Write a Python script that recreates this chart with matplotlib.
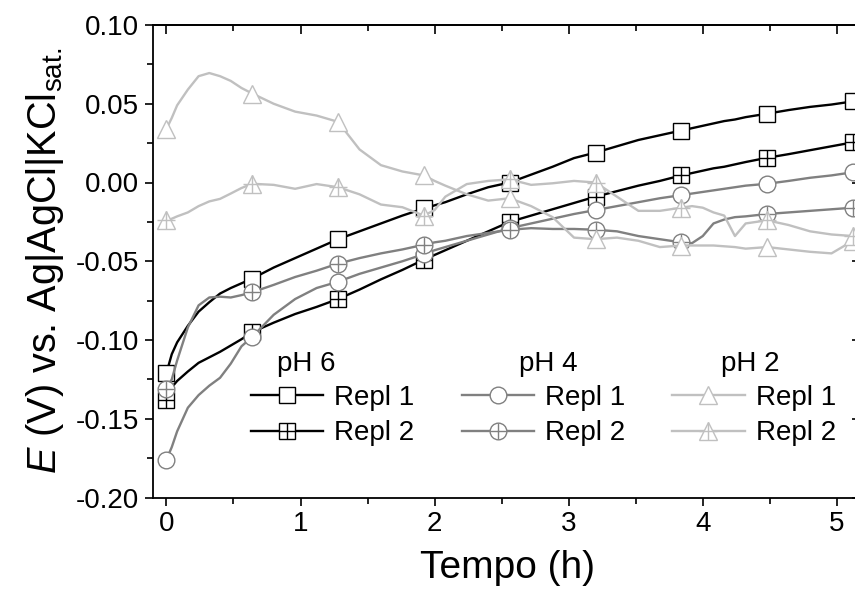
import numpy as np
import matplotlib
matplotlib.use('Agg')
import matplotlib.pyplot as plt
from matplotlib.lines import Line2D
from matplotlib.legend_handler import HandlerTuple
from matplotlib.ticker import MultipleLocator, FormatStrFormatter

plt.rcParams['font.family'] = ['Liberation Sans', 'DejaVu Sans']
plt.rcParams['axes.unicode_minus'] = False
plt.rcParams['mathtext.fontset'] = 'custom'
plt.rcParams['mathtext.rm'] = 'Liberation Sans'
plt.rcParams['mathtext.it'] = 'Liberation Sans:italic'
plt.rcParams['mathtext.bf'] = 'Liberation Sans:bold'

# ---------------- data ----------------
time_h = np.array([0.00, 0.04, 0.08, 0.16, 0.24, 0.32, 0.40, 0.48, 0.56, 0.64,
                   0.80, 0.96, 1.12, 1.28, 1.44, 1.60, 1.76, 1.92, 2.00, 2.08,
                   2.24, 2.40, 2.56, 2.72, 2.88, 3.04, 3.20, 3.36, 3.52, 3.68,
                   3.84, 3.92, 4.00, 4.08, 4.16, 4.24, 4.32, 4.48, 4.64, 4.80,
                   4.96, 5.12])

marker_times = [0.00, 0.64, 1.28, 1.92, 2.56, 3.20, 3.84, 4.48, 5.12]

ph6_repl1 = [-0.121, -0.109, -0.1015, -0.091, -0.082, -0.076, -0.0705, -0.067, -0.064, -0.061,
             -0.054, -0.048, -0.042, -0.036, -0.031, -0.026, -0.021, -0.0165, -0.0145, -0.0125,
             -0.0075, -0.003, 0.000, 0.005, 0.010, 0.0155, 0.019, 0.023, 0.027, 0.030,
             0.033, 0.0345, 0.036, 0.0375, 0.039, 0.040, 0.0415, 0.0437, 0.046, 0.048,
             0.0495, 0.0515]

ph6_repl2 = [-0.138, -0.130, -0.126, -0.120, -0.1145, -0.111, -0.1075, -0.1035, -0.0995, -0.095,
             -0.089, -0.0835, -0.079, -0.074, -0.068, -0.0615, -0.0555, -0.049, -0.046, -0.043,
             -0.037, -0.031, -0.025, -0.021, -0.017, -0.013, -0.009, -0.0055, -0.002, 0.001,
             0.0045, 0.006, 0.0075, 0.009, 0.010, 0.0115, 0.013, 0.0157, 0.018, 0.0205,
             0.023, 0.0255]

ph4_repl1 = [-0.176, -0.168, -0.158, -0.143, -0.135, -0.129, -0.124, -0.115, -0.104, -0.098,
             -0.084, -0.074, -0.067, -0.063, -0.058, -0.054, -0.050, -0.0455, -0.043, -0.041,
             -0.037, -0.033, -0.029, -0.026, -0.023, -0.020, -0.0175, -0.015, -0.0125, -0.010,
             -0.008, -0.007, -0.006, -0.005, -0.004, -0.003, -0.002, -0.0008, 0.001, 0.003,
             0.0045, 0.0065]

ph4_repl2 = [-0.131, -0.125, -0.113, -0.092, -0.078, -0.073, -0.0725, -0.073, -0.0715, -0.0697,
             -0.065, -0.060, -0.056, -0.0515, -0.048, -0.045, -0.0425, -0.0395, -0.038, -0.037,
             -0.034, -0.032, -0.030, -0.029, -0.0295, -0.0295, -0.030, -0.031, -0.034, -0.036,
             -0.038, -0.0385, -0.034, -0.026, -0.0235, -0.022, -0.0215, -0.020, -0.019, -0.018,
             -0.017, -0.016]

ph2_repl1 = [0.034, 0.041, 0.049, 0.059, 0.0675, 0.0695, 0.0675, 0.0645, 0.060, 0.0565,
             0.050, 0.045, 0.0425, 0.0385, 0.021, 0.011, 0.007, 0.0045, 0.001, -0.002,
             -0.0075, -0.0115, -0.010, -0.015, -0.022, -0.035, -0.036, -0.035, -0.037, -0.041,
             -0.040, -0.040, -0.040, -0.040, -0.0405, -0.041, -0.042, -0.041, -0.0425, -0.044,
             -0.045, -0.037]

ph2_repl2 = [-0.024, -0.023, -0.0215, -0.019, -0.015, -0.012, -0.0104, -0.007, -0.0035, -0.0008,
             -0.0015, -0.004, -0.001, -0.003, -0.0075, -0.014, -0.0157, -0.021, -0.0175, -0.009,
             -0.001, 0.001, 0.002, -0.0015, -0.0005, 0.001, 0.000, -0.009, -0.018, -0.018,
             -0.016, -0.015, -0.016, -0.019, -0.021, -0.034, -0.026, -0.024, -0.027, -0.031,
             -0.033, -0.034]

group_titles = ['pH 6', 'pH 4', 'pH 2']
repl_labels = ['Repl 1', 'Repl 2']

# ---------------- style ----------------
c_ph6 = 'black'
c_ph4 = '#808080'
c_ph2 = '#c0c0c0'
lw = 1.7
mew = 1.0

series = [
    (ph6_repl1, c_ph6, 's', 11, False),
    (ph6_repl2, c_ph6, 's', 11, True),
    (ph4_repl1, c_ph4, 'o', 12, False),
    (ph4_repl2, c_ph4, 'o', 12, True),
    (ph2_repl1, c_ph2, '^', 13, False),
    (ph2_repl2, c_ph2, '^', 13, True),
]

mark_idx = [int(np.argmin(np.abs(time_h - m))) for m in marker_times]

fig = plt.figure(figsize=(8.55, 5.92), dpi=100)
ax = fig.add_axes([153 / 855, (592 - 497.5) / 592, 708 / 855, 472.5 / 592])

handles = []
for vals, col, mk, ms, plus in series:
    y = np.asarray(vals)
    ax.plot(time_h, y, color=col, lw=lw, marker=mk, ms=ms, mfc='white',
            mec=col, mew=mew, markevery=mark_idx)
    if plus:
        ax.plot(time_h, y, ls='none', marker='+', ms=ms, mec=col, mew=mew,
                markevery=mark_idx)
    h_line = Line2D([], [], color=col, lw=lw, marker=mk, ms=ms, mfc='white',
                    mec=col, mew=mew)
    if plus:
        h_plus = Line2D([], [], ls='none', marker='+', ms=ms, mec=col, mew=mew)
        handles.append((h_line, h_plus))
    else:
        handles.append(h_line)

labels = [repl_labels[0], repl_labels[1]] * 3

ax.set_xlim(-0.1, 5.18)
ax.set_ylim(-0.2, 0.1)
ax.xaxis.set_major_locator(MultipleLocator(1))
ax.xaxis.set_minor_locator(MultipleLocator(0.5))
ax.yaxis.set_major_locator(MultipleLocator(0.05))
ax.yaxis.set_minor_locator(MultipleLocator(0.025))
ax.yaxis.set_major_formatter(FormatStrFormatter('%.2f'))

for sp in ax.spines.values():
    sp.set_linewidth(1.3)

ax.tick_params(which='both', direction='out', top=False, right=False, width=1.2,
               labelsize=20)
ax.tick_params(which='major', length=6, pad=4)
ax.tick_params(which='minor', length=4)

axt = ax.secondary_xaxis('top')
axt.xaxis.set_major_locator(MultipleLocator(1))
axt.xaxis.set_minor_locator(MultipleLocator(0.5))
axt.tick_params(which='both', direction='in', labeltop=False, width=1.2)
axt.tick_params(which='major', length=6.5)
axt.tick_params(which='minor', length=4.5)
axt.spines['top'].set_linewidth(1.3)

axr = ax.secondary_yaxis('right')
axr.yaxis.set_major_locator(MultipleLocator(0.05))
axr.yaxis.set_minor_locator(MultipleLocator(0.025))
axr.tick_params(which='both', direction='in', labelright=False, width=1.2)
axr.tick_params(which='major', length=6.5)
axr.tick_params(which='minor', length=4.5)

ax.set_xlabel('Tempo (h)', fontsize=28, labelpad=9)
ax.set_ylabel(r'$\mathit{E}$ (V) vs. Ag|AgCl|KCl$_{\mathrm{sat.}}$', fontsize=28.5, labelpad=7)

leg = ax.legend(handles, labels, ncol=3, frameon=False, fontsize=20,
                loc='upper left', bbox_to_anchor=(0.138, 0.239),
                borderaxespad=0, borderpad=0, handlelength=2.6,
                handletextpad=0.4, columnspacing=1.7, labelspacing=0.35,
                numpoints=1, handler_map={tuple: HandlerTuple(ndivide=1)})

for title, xc in zip(group_titles, [0.216, 0.558, 0.843]):
    ax.text(xc, 0.283, title, transform=ax.transAxes, fontsize=20,
            ha='center', va='center')

fig.savefig('out.png', dpi=100)
